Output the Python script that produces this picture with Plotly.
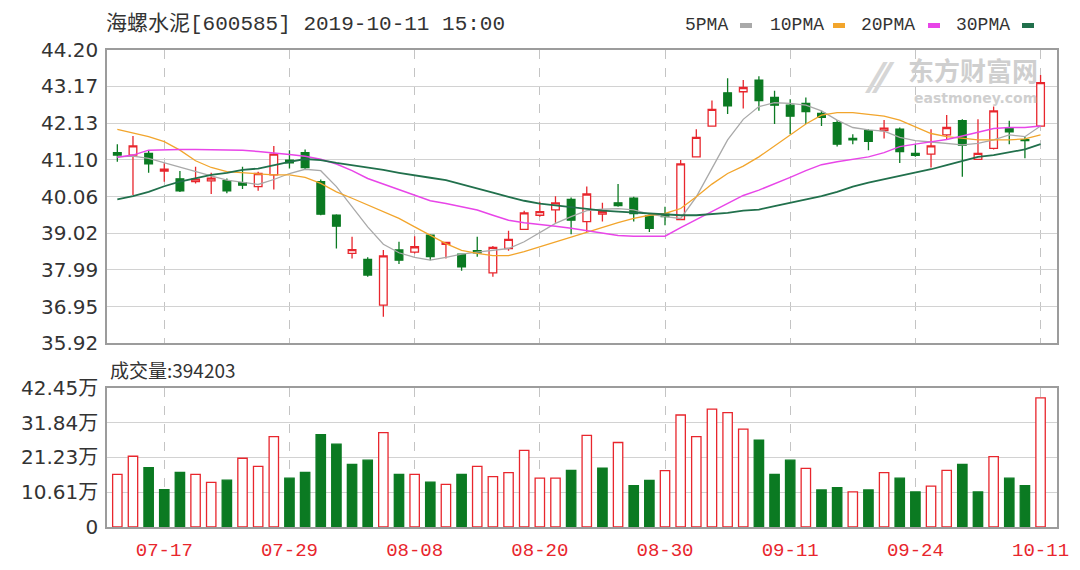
import plotly.graph_objects as go

# ---------------- data ----------------
dates_idx = [3, 11, 19, 27, 35, 43, 51, 59]
date_labels = ["07-17", "07-29", "08-08", "08-20", "08-30", "09-11", "09-24", "10-11"]

open_ = [41.30, 41.23, 41.28, 40.78, 40.56, 40.48, 40.50, 40.51, 40.45, 40.34,
         40.67, 41.09, 41.30, 40.48, 39.53, 38.45, 38.28, 36.99, 38.55, 38.49,
         38.97, 38.71, 38.43, 38.53, 37.90, 38.59, 39.13, 39.53, 39.68, 39.98,
         39.35, 39.56, 39.88, 40.01, 39.51, 39.56, 39.41, 41.18, 42.05, 42.99,
         43.02, 43.35, 42.86, 42.64, 42.69, 42.41, 42.15, 41.70, 41.92, 41.92,
         41.96, 41.28, 41.26, 41.80, 42.20, 41.11, 41.42, 41.99, 41.67, 42.05]
high = [41.54, 41.77, 41.37, 41.00, 40.78, 40.90, 40.73, 40.57, 40.90, 40.76,
        41.49, 41.37, 41.39, 40.54, 39.56, 38.92, 38.34, 38.55, 38.78, 38.94,
        38.99, 38.78, 38.45, 38.92, 38.66, 39.09, 39.66, 39.91, 40.07, 40.03,
        40.34, 39.88, 40.41, 40.05, 39.58, 39.77, 41.09, 41.96, 42.77, 43.40,
        43.35, 43.46, 43.05, 42.81, 42.86, 42.48, 42.22, 41.82, 41.96, 42.22,
        42.01, 41.54, 41.96, 42.36, 42.24, 42.24, 42.60, 42.20, 41.75, 43.49]
low = [41.04, 40.10, 40.73, 40.48, 40.19, 40.43, 40.13, 40.15, 40.27, 40.22,
       40.26, 40.85, 40.81, 39.53, 38.59, 38.31, 37.79, 36.66, 38.15, 38.45,
       38.26, 38.31, 37.96, 38.36, 37.79, 38.53, 39.11, 39.49, 39.32, 38.99,
       39.06, 39.35, 39.77, 39.35, 39.06, 39.25, 39.39, 41.17, 42.03, 42.39,
       42.55, 42.48, 42.11, 41.82, 42.11, 42.05, 41.47, 41.54, 41.37, 41.70,
       41.01, 41.18, 40.88, 41.66, 40.62, 41.09, 41.39, 41.54, 41.14, 42.03]
close = [41.23, 41.49, 40.98, 40.83, 40.22, 40.55, 40.58, 40.22, 40.38, 40.71,
         41.26, 41.01, 40.88, 39.56, 39.22, 38.56, 37.84, 38.38, 38.26, 38.64,
         38.36, 38.76, 38.07, 38.47, 38.62, 38.85, 39.60, 39.63, 39.88, 39.39,
         40.13, 39.63, 39.80, 39.58, 39.16, 39.49, 40.98, 41.73, 42.52, 42.62,
         43.14, 42.77, 42.64, 42.33, 42.46, 42.30, 41.54, 41.66, 41.62, 41.99,
         41.33, 41.22, 41.49, 42.01, 41.51, 41.28, 42.48, 41.89, 41.64, 43.28]

ma5 = [41.18, 41.20, 41.14, 41.01, 40.88, 40.76, 40.64, 40.52, 40.45, 40.40,
       40.54, 40.71, 40.83, 40.79, 40.34, 39.77, 39.20, 38.71, 38.47, 38.34,
       38.26, 38.34, 38.43, 38.49, 38.53, 38.59, 38.78, 39.04, 39.30, 39.49,
       39.66, 39.70, 39.72, 39.68, 39.56, 39.49, 39.44, 40.05, 40.85, 41.66,
       42.24, 42.60, 42.71, 42.69, 42.64, 42.48, 42.22, 42.01, 41.94, 41.91,
       41.73, 41.64, 41.60, 41.56, 41.52, 41.56, 41.66, 41.80, 41.75, 42.05]
ma10 = [41.96, 41.86, 41.75, 41.61, 41.37, 41.07, 40.88, 40.76, 40.73, 40.69,
        40.67, 40.67, 40.60, 40.43, 40.19, 40.01, 39.82, 39.63, 39.44, 39.20,
        38.97, 38.73, 38.54, 38.45, 38.39, 38.39, 38.50, 38.64, 38.77, 38.90,
        39.04, 39.18, 39.32, 39.44, 39.53, 39.58, 39.72, 40.05, 40.41, 40.71,
        40.92, 41.18, 41.49, 41.80, 42.11, 42.36, 42.43, 42.43, 42.39, 42.33,
        42.22, 42.03, 41.84, 41.75, 41.70, 41.66, 41.66, 41.66, 41.69, 41.80]
ma20 = [41.17, 41.23, 41.37, 41.39, 41.39, 41.39, 41.39, 41.39, 41.37, 41.33,
        41.30, 41.25, 41.20, 41.11, 40.98, 40.79, 40.57, 40.41, 40.26, 40.10,
        39.94, 39.86, 39.77, 39.68, 39.53, 39.39, 39.32, 39.28, 39.22, 39.16,
        39.09, 39.02, 38.96, 38.94, 38.94, 38.94, 39.18, 39.41, 39.65, 39.87,
        40.09, 40.24, 40.41, 40.60, 40.79, 40.96, 41.04, 41.11, 41.18, 41.30,
        41.47, 41.54, 41.61, 41.67, 41.77, 41.88, 41.98, 42.01, 42.01, 42.05]
ma30 = [39.98, 40.07, 40.19, 40.35, 40.48, 40.57, 40.67, 40.73, 40.81, 40.85,
        40.95, 41.04, 41.12, 41.09, 41.01, 40.95, 40.87, 40.81, 40.73, 40.67,
        40.59, 40.52, 40.41, 40.29, 40.17, 40.05, 39.94, 39.86, 39.81, 39.75,
        39.69, 39.66, 39.63, 39.60, 39.58, 39.56, 39.53, 39.53, 39.56, 39.60,
        39.66, 39.69, 39.79, 39.88, 39.98, 40.07, 40.19, 40.34, 40.45, 40.54,
        40.64, 40.73, 40.83, 40.95, 41.07, 41.18, 41.23, 41.30, 41.39, 41.54]

# volume in 万 (10k shares)
volume = [16.1, 21.6, 18.1, 11.4, 16.7, 16.1, 13.6, 14.3, 21.0, 18.5,
          27.6, 14.9, 16.7, 28.2, 25.3, 19.1, 20.4, 28.8, 16.1, 16.1,
          13.7, 13.0, 16.1, 18.5, 15.4, 16.6, 23.4, 14.9, 14.9, 17.3,
          28.0, 18.0, 25.8, 12.6, 14.2, 17.2, 34.2, 27.6, 36.0, 34.9,
          29.9, 26.5, 16.1, 20.4, 17.9, 11.3, 12.0, 10.7, 11.3, 16.6,
          14.9, 10.7, 12.5, 17.3, 19.1, 10.7, 21.5, 14.9, 12.6, 39.4203]

price_ticks = [35.92, 36.95, 37.99, 39.02, 40.06, 41.10, 42.13, 43.17, 44.20]
vol_ticks = [0, 10.61, 21.23, 31.84, 42.45]
vol_tick_text = ["0", "10.61万", "21.23万", "31.84万", "42.45万"]

ma_names = ["5PMA", "10PMA", "20PMA", "30PMA"]

# ---------------- style ----------------
RED = "#e8262d"
GREEN = "#0b7a22"
MA_COLORS = ["#a9a9a9", "#f2a52c", "#e845e8", "#21704c"]
TEXT = "#333333"
GRID = "#d2d2d2"
BORDER = "#9c9c9c"

OFF = 8  # page body margin
W, H = 1072, 562
L, R, T, B = 107 - OFF, W - (1057 - OFF), 50 - OFF, H - (527 - OFF)
PW, PH = W - L - R, H - T - B


def xp(px):  # page pixel -> paper
    return (px - OFF - L) / PW


def yp(py):
    return (H - B - (py - OFF)) / PH


n = len(close)
idx = list(range(n))

fig = go.Figure()

fig.add_trace(go.Candlestick(
    x=idx, open=open_, high=high, low=low, close=close,
    increasing=dict(line=dict(color=RED, width=1.3), fillcolor="white"),
    decreasing=dict(line=dict(color=GREEN, width=1.3), fillcolor=GREEN),
    whiskerwidth=0, showlegend=False, xaxis="x", yaxis="y", name="K"))

for name, series, col, w in zip(ma_names, [ma5, ma10, ma20, ma30], MA_COLORS,
                                [1.3, 1.3, 1.5, 1.8]):
    fig.add_trace(go.Scatter(x=idx, y=series, mode="lines", name=name,
                             line=dict(color=col, width=w), showlegend=False,
                             xaxis="x", yaxis="y"))

# volume colours: up vs previous close
up = [True] + [close[i] >= close[i - 1] for i in range(1, n)]
fig.add_trace(go.Bar(
    x=idx, y=volume, width=0.6, xaxis="x2", yaxis="y2", showlegend=False,
    marker=dict(color=["white" if u else GREEN for u in up],
                line=dict(color=[RED if u else GREEN for u in up], width=1.3))))

y_split_top = yp(343)
vol_top = yp(388)
xr = [-0.66, 60.05]

common_x = dict(range=xr, tickvals=dates_idx, showgrid=True, griddash="dash",
                gridcolor="#c4c4c4", gridwidth=1, zeroline=False, showline=True,
                mirror=True, linecolor=BORDER, linewidth=1.5, ticks="",
                automargin=False)
fig.update_layout(
    width=W, height=H, margin=dict(l=L, r=R, t=T, b=B, autoexpand=False),
    paper_bgcolor="white", plot_bgcolor="white", bargap=0.4,
    xaxis=dict(domain=[0, 1], anchor="y", showticklabels=False,
               rangeslider=dict(visible=False), **common_x),
    yaxis=dict(domain=[y_split_top, 1], range=[price_ticks[0], price_ticks[-1]],
               tickvals=price_ticks, ticktext=["%.2f" % v for v in price_ticks],
               gridcolor=GRID, zeroline=False, showline=True, mirror=True,
               linecolor=BORDER, linewidth=1.5, ticks="", ticklabelstandoff=3,
               automargin=False,
               tickfont=dict(family="DejaVu Sans", size=20, color=TEXT)),
    xaxis2=dict(domain=[0, 1], anchor="y2", matches="x", ticktext=date_labels,
                tickfont=dict(family="Liberation Mono, DejaVu Sans Mono", size=19, color=RED),
                ticklabelstandoff=4, **common_x),
    yaxis2=dict(domain=[0, vol_top], range=[0, vol_ticks[-1]], tickvals=vol_ticks,
                ticktext=vol_tick_text, gridcolor=GRID, zeroline=False, showline=True,
                mirror=True, linecolor=BORDER, linewidth=1.5, ticks="",
                ticklabelstandoff=3, automargin=False,
                tickfont=dict(family="DejaVu Sans, Noto Sans CJK SC", size=20, color=TEXT)),
)

annos = []
annos.append(dict(xref="paper", yref="paper", x=xp(104), y=yp(24), xanchor="left",
                  yanchor="middle", showarrow=False,
                  text="海螺水泥[600585] 2019-10-11 15:00",
                  font=dict(family="Liberation Mono, Noto Sans CJK SC", size=21, color=TEXT)))
annos.append(dict(xref="paper", yref="paper", x=xp(108), y=yp(370), xanchor="left",
                  yanchor="middle", showarrow=False,
                  text="成交量:%d" % round(volume[-1] * 10000),
                  font=dict(family="Noto Sans CJK SC", size=19, color=TEXT)))

legend_x = [683, 768, 859, 954]
dash_x = [740, 833, 928, 1022]
shapes = []
for name, lx, dx, col in zip(ma_names, legend_x, dash_x, MA_COLORS):
    annos.append(dict(xref="paper", yref="paper", x=xp(lx), y=yp(25), xanchor="left",
                      yanchor="middle", showarrow=False, text=name,
                      font=dict(family="Liberation Mono", size=18, color=TEXT)))
    shapes.append(dict(type="rect", xref="paper", yref="paper", x0=xp(dx), x1=xp(dx + 12),
                       y0=yp(28), y1=yp(23), fillcolor=col, line=dict(width=0)))

# watermark
annos.append(dict(xref="paper", yref="paper", x=xp(906), y=yp(69), xanchor="left",
                  yanchor="middle", showarrow=False, text="<b>东方财富网</b>",
                  font=dict(family="Noto Sans CJK SC", size=26, color="#cfcfcf")))
annos.append(dict(xref="paper", yref="paper", x=xp(912), y=yp(98), xanchor="left",
                  yanchor="middle", showarrow=False, text="<b>eastmoney.com</b>",
                  font=dict(family="DejaVu Sans", size=14, color="#cfcfcf")))
annos.append(dict(xref="paper", yref="paper", x=xp(880), y=yp(78), xanchor="center",
                  yanchor="middle", showarrow=False, text="<b>⁄⁄</b>",
                  font=dict(family="DejaVu Sans", size=40, color="#d6d6d6")))

fig.update_layout(annotations=annos, shapes=shapes)
fig.write_html("out.html")
